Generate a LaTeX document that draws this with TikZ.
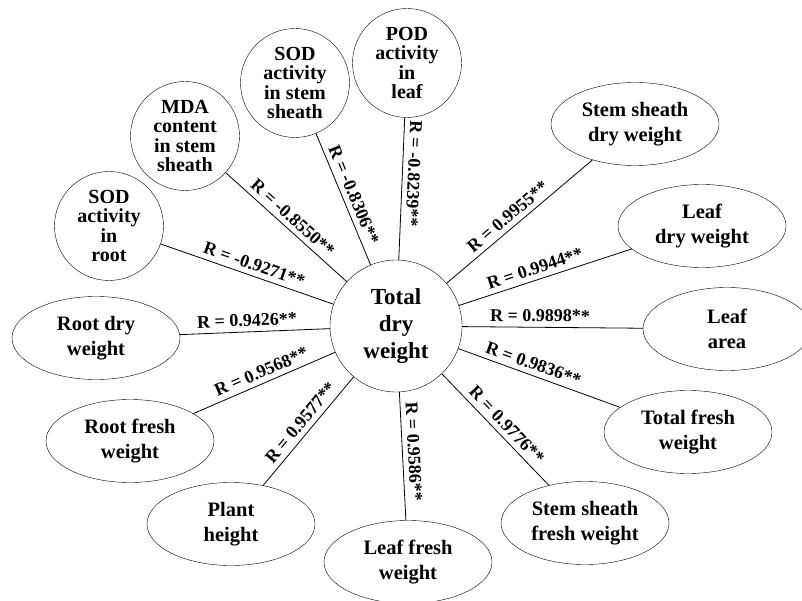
\documentclass[tikz,border=0pt]{standalone}
\usepackage{fontspec}
\setmainfont{Liberation Serif}
\usetikzlibrary{
  shapes.geometric,
  positioning
}

\begin{document}
\begin{tikzpicture}[
      x=1pt,y=1pt,
      hub/.style={
         circle,
         draw,
         inner sep=0pt,
         minimum size=132pt,
         align=center,
         font=\bfseries\fontsize{23}{27}\selectfont
      },
      enzyme/.style={
         circle,
         draw,
         inner sep=0pt,
         minimum size=109pt,
         align=center,
         font=\bfseries\fontsize{20}{19.3}\selectfont
      },
      trait/.style={
         ellipse,
         draw,
         inner sep=0pt,
         minimum width=168pt,
         minimum height=83pt,
         align=center,
         font=\bfseries\fontsize{20.5}{25}\selectfont
      },
      corr/.style={
         sloped,
         allow upside down,
         above=3pt,
         inner sep=2pt,
         font=\bfseries\fontsize{18}{20}\selectfont
      },
      link/.style={draw=black,line width=0.8pt},
      %every node/.style={line width=0.8pt}
    ]
    \useasboundingbox (0,0) rectangle (802,600);
    \node (tdw) [hub] at (396,274) {Total\\dry\\weight};
    \node (sodr) [enzyme] at (109,374) {SOD\\activity\\in\\root};
    \node (mda) [enzyme] at (185,464) {MDA\\content\\in stem\\sheath};
    \node (sods) [enzyme] at (295,517) {SOD\\activity\\in stem\\sheath};
    \node (podl) [enzyme] at (407,537) {POD\\activity\\in\\leaf};
    \node (ssdw) [trait] at (635,476) {Stem sheath\\dry weight};
    \node (ldw) [trait] at (702,374) {Leaf\\dry weight};
    \node (la) [trait] at (727,271) {Leaf\\area};
    \node (tfw) [trait] at (688,168) {Total fresh\\weight};
    \node (ssfw) [trait] at (585,77) {Stem sheath\\fresh weight};
    \node (lfw) [trait] at (408,38) {Leaf fresh\\weight};
    \node (ph) [trait] at (231,76) {Plant\\height};
    \node (rfw) [trait] at (130,159) {Root fresh\\weight};
    \node (rdw) [trait] at (96,262) {Root dry\\weight};
    % negative correlations
    \draw[link] (sodr) -- node[corr,pos=0.52] {R = -0.9271**} (tdw);
    \draw[link] (mda) -- node[corr,pos=0.49] {R = -0.8550**} (tdw);
    \draw[link] (sods) -- node[corr,pos=0.5] {R = -0.8306**} (tdw);
    \draw[link] (podl) -- node[corr,pos=0.39] {R = -0.8239**} (tdw);
    % positive correlations
    \draw[link] (tdw) -- node[corr,pos=0.47] {R = 0.9955**} (ssdw);
    \draw[link] (tdw) -- node[corr,pos=0.46] {R = 0.9944**} (ldw);
    \draw[link] (tdw) -- node[corr,pos=0.43] {R = 0.9898**} (la);
    \draw[link] (tdw) -- node[corr,pos=0.44] {R = 0.9836**} (tfw);
    \draw[link] (tdw) -- node[corr,pos=0.53] {R = 0.9776**} (ssfw);
    \draw[link] (tdw) -- node[corr,pos=0.47] {R = 0.9586**} (lfw);
    \draw[link] (ph) -- node[corr,pos=0.51] {R = 0.9577**} (tdw);
    \draw[link] (rfw) -- node[corr,pos=0.51] {R = 0.9568**} (tdw);
    \draw[link] (rdw) -- node[corr,pos=0.45] {R = 0.9426**} (tdw);
\end{tikzpicture}
\end{document}
